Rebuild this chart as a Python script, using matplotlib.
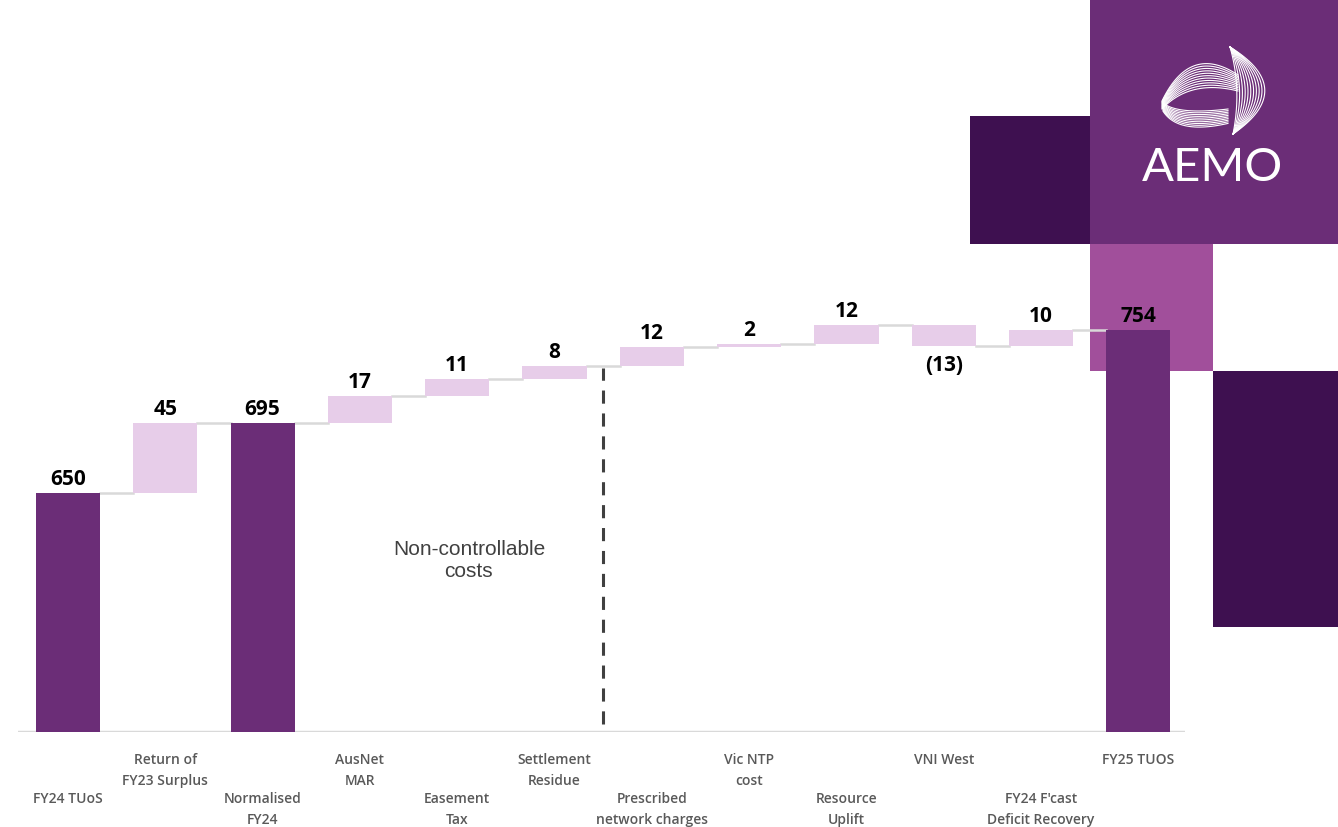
import matplotlib.pyplot as plt
from matplotlib.patches import Rectangle
import numpy as np

# data
categories = ["FY24 TUoS", "Return of\nFY23 Surplus", "Normalised\nFY24", "AusNet\nMAR",
              "Easement\nTax", "Settlement\nResidue", "Prescribed\nnetwork charges",
              "Vic NTP\ncost", "Resource\nUplift", "VNI West",
              "FY24 F'cast\nDeficit Recovery", "FY25 TUOS"]
values = [650, 45, 695, 17, 11, 8, 12, 2, 12, -13, 10, 754]
is_total = [True, False, True, False, False, False, False, False, False, False, False, True]
value_labels = ["650", "45", "695", "17", "11", "8", "12", "2", "12", "(13)", "10", "754"]
divider_after = 5  # dashed line after "Settlement Residue"

DARK = '#6B2D77'
LIGHT = '#E7CDE9'
DEEP = '#3E1050'
MAGENTA = '#A14F9B'
GRID = '#D9D9D9'
TXT = '#595959'

W, H = 1338, 828
fig = plt.figure(figsize=(W / 100, H / 100), dpi=100)
ax = fig.add_axes([18 / W, 1 - 733 / H, 1167 / W, 733 / H])
ax.set_facecolor('none')
ax.set_xlim(-0.514, 11.48)
ax.set_ylim(498, 965)
ax.axis('off')

# background decoration boxes (pixel coords -> figure fraction)
def box(x0, y0, x1, y1, color):
    r = Rectangle((x0 / W, 1 - y1 / H), (x1 - x0) / W, (y1 - y0) / H,
                  transform=fig.transFigure, facecolor=color, edgecolor='none',
                  zorder=0.5, clip_on=False)
    ax.add_patch(r)

box(1090, 0, 1338, 245, DARK)
box(970, 117, 1090, 245, DEEP)
box(1090, 245, 1213, 372, MAGENTA)
box(1213, 372, 1338, 628, DEEP)

# AEMO logo
fig.text(1212 / W, 1 - 168 / H, 'AEMO', color='white', fontsize=34,
         family='Lato', ha='center', va='center', zorder=3)

def swoosh(p0, p1, p2, lw=0.8):
    t = np.linspace(0, 1, 50)[:, None]
    pts = (1 - t) ** 2 * np.array(p0) + 2 * (1 - t) * t * np.array(p1) + t ** 2 * np.array(p2)
    fig.lines.append(plt.Line2D(pts[:, 0] / W, 1 - pts[:, 1] / H,
                                transform=fig.transFigure, color='white',
                                lw=lw, zorder=3))

# crescent on the right
for k in range(11):
    b = 6 + k * 2.8
    swoosh((1230, 48), (1230 + 2 * b, 90), (1233, 135))
# upper wing
for k in range(11):
    swoosh((1238, 76 + k * 1.6), (1190, 44 + k * 3.6), (1162, 102 + k * 0.8))
# lower wing
for k in range(10):
    swoosh((1163, 104 + k * 0.9), (1178, 116 + k * 2.2), (1228, 110 + k * 1.6))

# waterfall geometry
x = np.arange(len(values))
bottoms, heights, ends = [], [], []
running = 0
for v, tot in zip(values, is_total):
    if tot:
        bottoms.append(0)
        heights.append(v)
        running = v
    else:
        bottoms.append(min(running, running + v))
        heights.append(abs(v))
        running = running + v
    ends.append(running)

colors = [DARK if tot else LIGHT for tot in is_total]
bw = 0.66
ax.bar(x, heights, bottom=bottoms, width=bw, color=colors, zorder=2)

# connectors
for i in range(len(values) - 1):
    ax.plot([x[i] + bw / 2, x[i + 1] - bw / 2], [ends[i], ends[i]],
            color=GRID, lw=1.8, zorder=1.5, clip_on=False)

# baseline
ax.axhline(498, color=GRID, lw=2.5, zorder=1)

# value labels
for i, (v, lab) in enumerate(zip(values, value_labels)):
    if v < 0:
        ax.annotate(lab, (x[i], bottoms[i]), xytext=(0, -6), textcoords='offset points',
                    ha='center', va='top', fontsize=15, fontweight='bold',
                    family='Open Sans', color='black', zorder=4)
    else:
        ax.annotate(lab, (x[i], bottoms[i] + heights[i]), xytext=(0, 3),
                    textcoords='offset points', ha='center', va='bottom',
                    fontsize=15, fontweight='bold', family='Open Sans',
                    color='black', zorder=4)

# category labels, staggered
for i, cat in enumerate(categories):
    dy = -14.4 if i % 2 == 1 else -42.5
    ax.annotate(cat, (x[i], 498), xytext=(0, dy), textcoords='offset points',
                ha='center', va='top', fontsize=10, fontweight='semibold',
                family='Open Sans', color=TXT, linespacing=1.62,
                annotation_clip=False)

# divider
ax.plot([divider_after + 0.5] * 2, [503, 730], ls=(0, (4.3, 3.2)), color='#404040',
        lw=2.2, zorder=1.6)
ax.text(4.12, 608, 'Non-controllable\ncosts', ha='center', va='center',
        fontsize=15, family='Liberation Sans', color='#404040', linespacing=1.2)

fig.savefig('out.png', dpi=100)
